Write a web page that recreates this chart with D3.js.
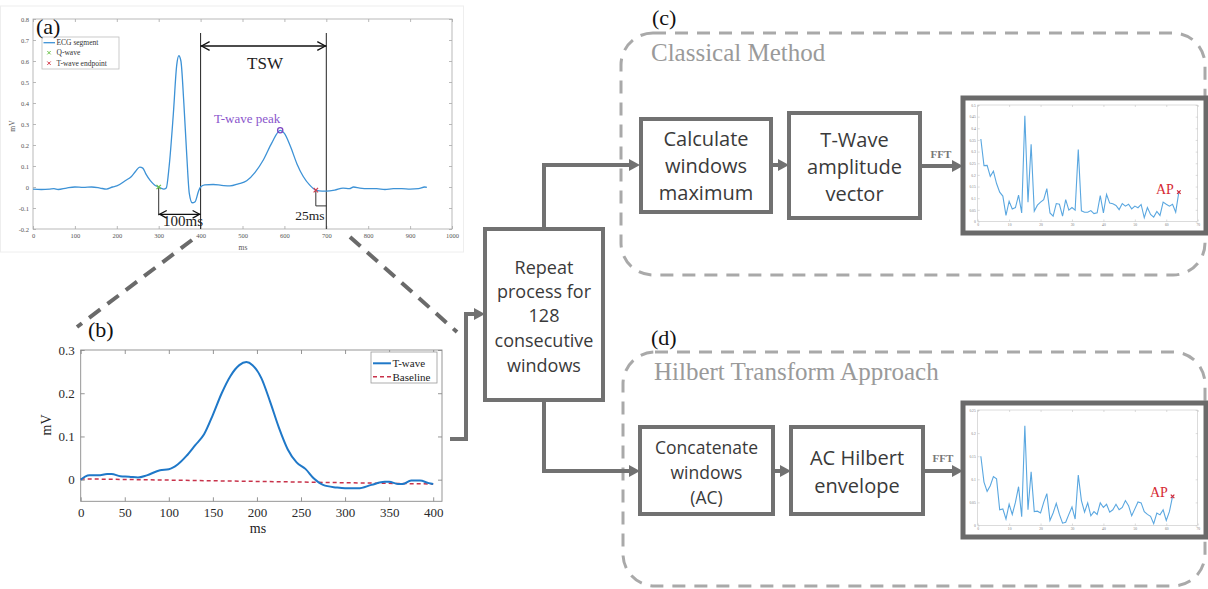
<!DOCTYPE html>
<html><head><meta charset="utf-8">
<script src="https://cdn.jsdelivr.net/npm/d3@7"></script>
<style>body{margin:0;background:#fff}svg{display:block}</style>
</head><body>
<svg id="fig" width="1208" height="589"></svg>
<script>
// ---------- DATA ----------
const ecgMs = [0,20,40,50,60,80,100,120,140,160,175,190,200,220,235,245,255,262,270,280,290,300,305,312,318,325,335,343,348,353,360,367,373,380,387,395,400,410,430,450,470,490,510,530,550,570,590,600,615,630,645,660,675,690,700,720,740,755,765,780,800,820,840,860,880,900,920,935,940];
const ecgMv = [-0.01,-0.012,-0.01,-0.008,-0.012,-0.005,0.0,-0.002,0.0,-0.005,-0.01,0.0,0.005,0.03,0.05,0.075,0.095,0.09,0.06,0.03,0.01,0.0,-0.005,-0.01,-0.005,0.1,0.35,0.58,0.625,0.6,0.4,0.15,-0.03,-0.075,-0.07,-0.02,0.0,0.01,0.012,0.008,0.005,0.015,0.03,0.07,0.13,0.21,0.27,0.255,0.19,0.11,0.05,0.01,-0.015,-0.02,-0.02,-0.015,-0.005,-0.008,0.0,-0.005,-0.008,-0.008,-0.012,-0.008,-0.008,-0.01,-0.008,0.0,-0.002];
const qWave = [300, 0.0];
const tEnd = [675, -0.015];
const tPeak = [590, 0.27];
const tswRange = [400, 700];

const twMs = [0,5,10,20,30,35,45,55,65,75,90,100,110,120,130,140,150,160,170,180,188,195,205,215,225,235,245,255,265,275,290,300,315,330,345,350,360,365,375,385,395,400];
const twMv = [0.0,0.007,0.01,0.01,0.013,0.013,0.008,0.007,0.005,0.01,0.022,0.024,0.035,0.055,0.08,0.105,0.15,0.2,0.24,0.265,0.272,0.265,0.235,0.18,0.12,0.07,0.04,0.025,0.002,-0.012,-0.018,-0.02,-0.02,-0.012,-0.005,-0.005,-0.01,-0.01,-0.002,-0.002,-0.008,-0.01];
const baseMs = [0, 400];
const baseMv = [0.002, -0.01];

const specClassical = [0.354,0.24,0.241,0.194,0.216,0.163,0.126,0.109,0.026,0.087,0.054,0.06,0.113,0.037,0.454,0.083,0.331,0.044,0.07,0.083,0.094,0.141,0.037,0.023,0.077,0.074,0.023,0.094,0.049,0.06,0.049,0.309,0.046,0.04,0.04,0.047,0.034,0.037,0.111,0.037,0.116,0.079,0.076,0.069,0.051,0.077,0.066,0.074,0.054,0.066,0.059,0.073,0.016,0.06,0.03,0.019,0.043,0.026,0.083,0.074,0.066,0.074,0.04,0.126];
const specHilbert = [0.15,0.094,0.074,0.086,0.106,0.101,0.034,0.036,0.014,0.046,0.024,0.05,0.084,0.019,0.216,0.034,0.116,0.03,0.031,0.027,0.05,0.069,0.011,0.027,0.048,0.024,0.005,0.007,0.024,0.04,0.014,0.109,0.054,0.029,0.049,0.021,0.03,0.024,0.049,0.039,0.046,0.029,0.034,0.046,0.034,0.039,0.054,0.043,0.021,0.036,0.051,0.049,0.03,0.024,0.02,0.004,0.027,0.023,0.034,0.011,0.03,0.063];

const aXTicks = [0,100,200,300,400,500,600,700,800,900,1000];
const aYTicks = [-0.2,-0.1,0,0.1,0.2,0.3,0.4,0.5,0.6,0.7,0.8];
const bXTicks = [0,50,100,150,200,250,300,350,400];
const bYTicks = [0,0.1,0.2,0.3];
const sXTicks = [0,10,20,30,40,50,60,70];
const cYTicks = [0,0.05,0.1,0.15,0.2,0.25,0.3,0.35,0.4,0.45,0.5];
const dYTicks = [0,0.05,0.1,0.15,0.2,0.25];

const legendA = ["ECG segment","Q-wave","T-wave endpoint"];
const legendB = ["T-wave","Baseline"];
const repeatLines = ["Repeat","process for","128","consecutive","windows"];
const calcLines = ["Calculate","windows","maximum"];
const ampLines = ["T-Wave","amplitude","vector"];
const concatLines = ["Concatenate","windows","(AC)"];
const hilbLines = ["AC Hilbert","envelope"];

// ---------- STYLE ----------
const SERIF = "'Liberation Serif','Times New Roman',serif";
const SANS = "'Open Sans','Noto Sans',sans-serif";
const GRAY = "#717171";
const svg = d3.select("#fig");
const fmt = d => d === 0 ? "0" : String(+d.toFixed(2));

function xMark(g, x, y, s, color, w) {
  g.append("path").attr("d", `M${x-s},${y-s}L${x+s},${y+s}M${x-s},${y+s}L${x+s},${y-s}`)
    .attr("stroke", color).attr("stroke-width", w || 1.2).attr("fill", "none");
}
function chevron(g, x, y, dir, len) {
  // dir: +1 tip pointing right, -1 pointing left
  g.append("path").attr("d", `M${x - dir*len},${y-len*0.55}L${x},${y}L${x - dir*len},${y+len*0.55}`)
    .attr("stroke", "#111").attr("stroke-width", 1.3).attr("fill", "none");
}
function flowArrow(pts) {
  const n = pts.length, L = pts[n-1], P = pts[n-2];
  const dx = L[0]-P[0], dy = L[1]-P[1], d = Math.hypot(dx, dy), ux = dx/d, uy = dy/d;
  const hl = 11, hw = 6;
  const p2 = pts.slice(0, n-1).concat([[L[0]-ux*(hl-1), L[1]-uy*(hl-1)]]);
  svg.append("path").attr("d", d3.line()(p2)).attr("stroke", GRAY).attr("stroke-width", 4)
    .attr("fill", "none").attr("stroke-linejoin", "miter");
  const bx = L[0]-ux*hl, by = L[1]-uy*hl;
  svg.append("path").attr("d", `M${L[0]},${L[1]}L${bx - uy*hw},${by + ux*hw}L${bx + uy*hw},${by - ux*hw}Z`)
    .attr("fill", GRAY);
}
function textBox(x0, y0, x1, y1, lines, size, spacing, yCenters) {
  svg.append("rect").attr("x", x0).attr("y", y0).attr("width", x1-x0).attr("height", y1-y0)
    .attr("fill", "#fff").attr("stroke", GRAY).attr("stroke-width", 4);
  const cx = (x0+x1)/2, cy = (y0+y1)/2;
  lines.forEach((t, i) => {
    svg.append("text").attr("x", cx)
      .attr("y", yCenters ? yCenters[i] : cy + (i - (lines.length-1)/2)*spacing)
      .attr("text-anchor", "middle").attr("dominant-baseline", "central")
      .attr("font-family", SANS).attr("font-size", size).attr("fill", "#3a3a3a").text(t);
  });
}
function matlabAxes(g, xs, ys, xt, yt, opt) {
  const [x0, x1] = xs.range(), [y0, y1] = ys.range(); // y0 bottom
  g.append("rect").attr("x", x0).attr("y", y1).attr("width", x1-x0).attr("height", y0-y1)
    .attr("fill", "none").attr("stroke", opt.frame).attr("stroke-width", opt.fw);
  const bot = g.append("g").attr("transform", `translate(0,${y0})`)
    .call(d3.axisBottom(xs).tickValues(xt).tickSizeInner(-opt.ts).tickSizeOuter(0).tickPadding(opt.pad).tickFormat(fmt));
  const top = g.append("g").attr("transform", `translate(0,${y1})`)
    .call(d3.axisTop(xs).tickValues(xt).tickSizeInner(-opt.ts).tickSizeOuter(0).tickFormat(""));
  const lef = g.append("g").attr("transform", `translate(${x0},0)`)
    .call(d3.axisLeft(ys).tickValues(yt).tickSizeInner(-opt.ts).tickSizeOuter(0).tickPadding(opt.pad).tickFormat(fmt));
  const rig = g.append("g").attr("transform", `translate(${x1},0)`)
    .call(d3.axisRight(ys).tickValues(yt).tickSizeInner(-opt.ts).tickSizeOuter(0).tickFormat(""));
  [bot, top, lef, rig].forEach(a => {
    a.select(".domain").remove();
    a.selectAll("line").attr("stroke", opt.frame).attr("stroke-width", opt.fw);
    a.selectAll("text").attr("font-family", SERIF).attr("font-size", opt.fs).attr("fill", opt.tc);
  });
}

// ---------- PANEL (a) ----------
svg.append("rect").attr("x", 0.5).attr("y", 6).attr("width", 463).attr("height", 246)
  .attr("fill", "none").attr("stroke", "#eeeeee");
const gA = svg.append("g");
const xA = d3.scaleLinear([0, 1000], [33, 452]);
const yA = d3.scaleLinear([-0.2, 0.8], [229, 19]);
matlabAxes(gA, xA, yA, aXTicks, aYTicks, {frame: "#a8a8a8", fw: 0.8, ts: 3, pad: 4, fs: 6.5, tc: "#555"});
gA.append("text").attr("x", 243).attr("y", 250).attr("text-anchor", "middle")
  .attr("font-family", SERIF).attr("font-size", 7.5).attr("fill", "#555").text("ms");
gA.append("text").attr("transform", "translate(15,126) rotate(-90)").attr("text-anchor", "middle")
  .attr("font-family", SERIF).attr("font-size", 7.5).attr("fill", "#555").text("mV");

// vertical TSW lines
tswRange.forEach(v => gA.append("line").attr("x1", xA(v)).attr("x2", xA(v)).attr("y1", 33).attr("y2", yA(-0.2))
  .attr("stroke", "#222").attr("stroke-width", 1));
// TSW arrow
const ty = 46;
gA.append("line").attr("x1", xA(tswRange[0])).attr("x2", xA(tswRange[1])).attr("y1", ty).attr("y2", ty)
  .attr("stroke", "#111").attr("stroke-width", 1.3);
chevron(gA, xA(tswRange[0]) + 1, ty, -1, 8);
chevron(gA, xA(tswRange[1]) - 1, ty, 1, 8);
gA.append("text").attr("x", 265).attr("y", 69).attr("text-anchor", "middle")
  .attr("font-family", SERIF).attr("font-size", 17).attr("fill", "#222").text("TSW");

// ECG
const ecg = ecgMs.map((m, i) => [m, ecgMv[i]]);
gA.append("path").datum(ecg)
  .attr("d", d3.line().x(d => xA(d[0])).y(d => yA(d[1])).curve(d3.curveMonotoneX))
  .attr("fill", "none").attr("stroke", "#3d92d6").attr("stroke-width", 1.3);

// 100ms
const y100 = yA(-0.13);
gA.append("line").attr("x1", xA(qWave[0])).attr("x2", xA(qWave[0])).attr("y1", yA(qWave[1])).attr("y2", y100 + 1)
  .attr("stroke", "#333").attr("stroke-width", 1);
gA.append("line").attr("x1", xA(qWave[0])).attr("x2", xA(400)).attr("y1", y100).attr("y2", y100)
  .attr("stroke", "#111").attr("stroke-width", 1.3);
chevron(gA, xA(qWave[0]) + 1, y100, -1, 7);
chevron(gA, xA(400) - 1, y100, 1, 7);
gA.append("text").attr("x", 183).attr("y", 226).attr("text-anchor", "middle")
  .attr("font-family", SERIF).attr("font-size", 15).attr("fill", "#222").text("100ms");
// 25ms
const y25 = yA(-0.09);
gA.append("path").attr("d", `M${xA(tEnd[0])},${yA(tEnd[1])}V${y25}H${xA(700)}`)
  .attr("fill", "none").attr("stroke", "#333").attr("stroke-width", 1);
gA.append("text").attr("x", 310).attr("y", 220).attr("text-anchor", "middle")
  .attr("font-family", SERIF).attr("font-size", 13.5).attr("fill", "#222").text("25ms");

// markers
xMark(gA, xA(qWave[0]), yA(qWave[1]), 2.2, "#6cc24a", 1.2);
xMark(gA, xA(tEnd[0]), yA(tEnd[1]), 2.2, "#d43a4a", 1.2);
gA.append("circle").attr("cx", xA(tPeak[0])).attr("cy", yA(tPeak[1])).attr("r", 2.6)
  .attr("fill", "none").attr("stroke", "#7d47c2").attr("stroke-width", 1.3);
gA.append("text").attr("x", 214).attr("y", 123).attr("font-family", SERIF).attr("font-size", 13)
  .attr("fill", "#8a55cc").text("T-wave peak");

// legend (a)
gA.append("rect").attr("x", 42).attr("y", 37).attr("width", 77).attr("height", 32)
  .attr("fill", "#fff").attr("stroke", "#bdbdbd").attr("stroke-width", 0.8);
gA.append("line").attr("x1", 43.5).attr("x2", 55).attr("y1", 42.7).attr("y2", 42.7).attr("stroke", "#3d92d6").attr("stroke-width", 1.3);
xMark(gA, 49, 52.7, 1.7, "#6cc24a", 1);
xMark(gA, 49, 63.2, 1.7, "#d43a4a", 1);
legendA.forEach((t, i) => gA.append("text").attr("x", 56.5).attr("y", [42.7, 52.7, 63.2][i])
  .attr("dominant-baseline", "central").attr("font-family", SERIF).attr("font-size", 7.5).attr("fill", "#333").text(t));
gA.append("text").attr("x", 36).attr("y", 34).attr("font-family", SERIF).attr("font-size", 22).attr("fill", "#111").text("(a)");

// ---------- zoom dashed lines ----------
[[[192, 240], [77, 327]], [[350, 237], [457, 332]]].forEach(l =>
  svg.append("line").attr("x1", l[0][0]).attr("y1", l[0][1]).attr("x2", l[1][0]).attr("y2", l[1][1])
    .attr("stroke", "#6a6a6a").attr("stroke-width", 4).attr("stroke-dasharray", "14,9"));

// ---------- PANEL (b) ----------
const gB = svg.append("g");
const xB = d3.scaleLinear([0, 410], [80.7, 442]);
const yB = d3.scaleLinear([-0.05, 0.3], [501.3, 350]);
matlabAxes(gB, xB, yB, bXTicks, bYTicks, {frame: "#8a8a8a", fw: 0.9, ts: 4, pad: 6, fs: 13, tc: "#2a2a2a"});
gB.append("text").attr("x", 258).attr("y", 533).attr("text-anchor", "middle")
  .attr("font-family", SERIF).attr("font-size", 14).attr("fill", "#222").text("ms");
gB.append("text").attr("transform", "translate(51,425) rotate(-90)").attr("text-anchor", "middle")
  .attr("font-family", SERIF).attr("font-size", 14).attr("fill", "#222").text("mV");
const base = baseMs.map((m, i) => [m, baseMv[i]]);
gB.append("path").datum(base).attr("d", d3.line().x(d => xB(d[0])).y(d => yB(d[1])))
  .attr("fill", "none").attr("stroke", "#c8324a").attr("stroke-width", 1.5).attr("stroke-dasharray", "4,3");
const tw = twMs.map((m, i) => [m, twMv[i]]);
gB.append("path").datum(tw).attr("d", d3.line().x(d => xB(d[0])).y(d => yB(d[1])).curve(d3.curveMonotoneX))
  .attr("fill", "none").attr("stroke", "#1f78c8").attr("stroke-width", 2);
// legend (b)
gB.append("rect").attr("x", 371).attr("y", 352).attr("width", 66).attr("height", 31)
  .attr("fill", "#fff").attr("stroke", "#999").attr("stroke-width", 0.8);
gB.append("line").attr("x1", 373).attr("x2", 391).attr("y1", 363.3).attr("y2", 363.3).attr("stroke", "#1f78c8").attr("stroke-width", 2);
gB.append("line").attr("x1", 373).attr("x2", 391).attr("y1", 376.7).attr("y2", 376.7).attr("stroke", "#c8324a")
  .attr("stroke-width", 1.5).attr("stroke-dasharray", "4,3");
legendB.forEach((t, i) => gB.append("text").attr("x", 392.5).attr("y", [363.3, 376.7][i])
  .attr("dominant-baseline", "central").attr("font-family", SERIF).attr("font-size", 11).attr("fill", "#222").text(t));
gB.append("text").attr("x", 88).attr("y", 337).attr("font-family", SERIF).attr("font-size", 22).attr("fill", "#111").text("(b)");

// ---------- dashed group frames ----------
svg.append("rect").attr("x", 621).attr("y", 33).attr("width", 584).attr("height", 242).attr("rx", 32)
  .attr("fill", "none").attr("stroke", "#a9a9a9").attr("stroke-width", 3).attr("stroke-dasharray", "13,9");
svg.append("rect").attr("x", 623).attr("y", 352).attr("width", 582).attr("height", 234).attr("rx", 32)
  .attr("fill", "none").attr("stroke", "#a9a9a9").attr("stroke-width", 3).attr("stroke-dasharray", "13,9");
svg.append("text").attr("x", 651).attr("y", 61).attr("font-family", SERIF).attr("font-size", 25)
  .attr("fill", "#9a9a9a").text("Classical Method");
svg.append("text").attr("x", 654).attr("y", 380).attr("font-family", SERIF).attr("font-size", 25)
  .attr("fill", "#9a9a9a").text("Hilbert Transform Approach");
svg.append("text").attr("x", 652).attr("y", 25).attr("font-family", SERIF).attr("font-size", 22).attr("fill", "#111").text("(c)");
svg.append("text").attr("x", 651).attr("y", 345).attr("font-family", SERIF).attr("font-size", 22).attr("fill", "#111").text("(d)");

// ---------- flow arrows ----------
flowArrow([[450, 439], [466, 439], [466, 314], [485, 314]]);
flowArrow([[544, 229], [544, 165], [640, 165]]);
flowArrow([[544, 400], [544, 471], [640, 471]]);
flowArrow([[771, 165], [789, 165]]);
flowArrow([[920, 166], [963, 166]]);
flowArrow([[773, 471], [791, 471]]);
flowArrow([[923, 471], [963, 471]]);
svg.append("text").attr("x", 941).attr("y", 158).attr("text-anchor", "middle").attr("font-family", SERIF)
  .attr("font-weight", "bold").attr("font-size", 11).attr("fill", "#777").text("FFT");
svg.append("text").attr("x", 943).attr("y", 462).attr("text-anchor", "middle").attr("font-family", SERIF)
  .attr("font-weight", "bold").attr("font-size", 11).attr("fill", "#777").text("FFT");

// ---------- boxes ----------
textBox(485, 229, 603, 400, repeatLines, 18, 24.5, [267, 291, 315, 340, 365]);
textBox(641, 119, 771, 212, calcLines, 20, 27);
textBox(789, 113, 920, 218, ampLines, 20, 27, [139, 166, 193]);
textBox(640, 427, 773, 514, concatLines, 17.5, 25, [447, 472, 497]);
textBox(791, 427, 923, 514, hilbLines, 20, 28, [457, 485]);

// ---------- spectra ----------
function spectrum(y0, y1, yTop, vals, yt, apXY) {
  svg.append("rect").attr("x", 963).attr("y", y0).attr("width", 243).attr("height", y1 - y0)
    .attr("fill", "#fff").attr("stroke", "#6a6a6a").attr("stroke-width", 5);
  const g = svg.append("g");
  const xs = d3.scaleLinear([0, 70], [977.7, 1197.7]);
  const ys = d3.scaleLinear([0, yTop], [y1 - 11.5, y0 + 7]);
  matlabAxes(g, xs, ys, sXTicks, yt, {frame: "#c4c4c4", fw: 0.6, ts: 2, pad: 2, fs: 3.6, tc: "#777"});
  const pts = vals.map((v, i) => [i + 1, v]);
  g.append("path").datum(pts).attr("d", d3.line().x(d => xs(d[0])).y(d => ys(d[1])))
    .attr("fill", "none").attr("stroke", "#5aa7e0").attr("stroke-width", 1.1);
  const last = pts[pts.length - 1];
  xMark(g, xs(last[0]), ys(last[1]), 1.8, "#d0283a", 1.2);
  g.append("text").attr("x", apXY[0]).attr("y", apXY[1]).attr("dominant-baseline", "central")
    .attr("font-family", SERIF).attr("font-size", 14).attr("fill", "#d62a34").text("AP");
}
spectrum(98, 233, 0.5, specClassical, cYTicks, [1156, 189]);
spectrum(403, 537, 0.25, specHilbert, dYTicks, [1150, 492]);
</script>
</body></html>
